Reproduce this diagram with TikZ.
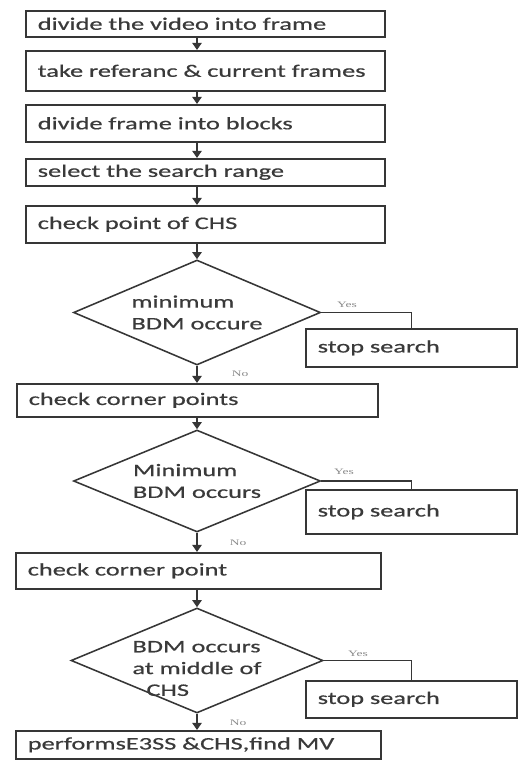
\documentclass[tikz,border=0pt]{standalone}
\usepackage{fontspec}
\setmainfont{Carlito}[FakeStretch=1.5, FakeBold=0.6]
\newfontfamily\notefont{Liberation Serif}[FakeStretch=1.6]
\usepackage{xcolor}
\definecolor{flow-white}{HTML}{FFFFFF}
\definecolor{flow-line}{HTML}{363636}
\definecolor{flow-text}{HTML}{3A3A3A}
\definecolor{flow-note}{HTML}{8A8A8A}
\usepackage{tikz}
\usetikzlibrary{shapes.geometric, arrows.meta}

\tikzset{
  stepbox/.style 2 args={draw=flow-line, line width=1.1pt, anchor=north west,
    text width=#1, minimum height=#2, inner xsep=0.3cm, inner ysep=0pt,
    align=left, text=flow-text, font=\fontsize{12.5}{15.5}\selectfont},
  decision/.style={draw=flow-line, line width=1.1pt, shape=diamond, aspect=2.35, inner sep=0pt},
  decisiontext/.style={align=left, text=flow-text, inner sep=0pt, font=\fontsize{12.5}{15.5}\selectfont},
  flowarrow/.style={draw=flow-line, line width=1.4pt, -{Triangle[length=5pt, width=6.5pt]}},
  yesline/.style={draw=flow-line, line width=1.1pt},
  note/.style={text=flow-note, inner sep=0pt, font=\notefont\fontsize{6}{7}\selectfont}
}

\begin{document}
\begin{tikzpicture}

    % Background
    \fill[flow-white] (0, 0) rectangle (12.925, -19);
    \useasboundingbox (0, 0) rectangle (12.925, -19);
    \coordinate (spine) at (4.925, 0);

    % Steps
    \node[stepbox={8.375cm}{0.65cm}] (frames) at (0.625, -0.25) {divide the video into frame};
    \node[stepbox={8.375cm}{1.0cm}] (refcur) at (0.625, -1.25) {take referanc \& current frames};
    \node[stepbox={8.375cm}{0.925cm}] (blocks) at (0.625, -2.6) {divide frame into blocks};
    \node[stepbox={8.375cm}{0.675cm}] (range) at (0.625, -3.95) {select the search range};
    \node[stepbox={8.375cm}{0.925cm}] (chspoint) at (0.625, -5.125) {check point of CHS};

    % First test
    \node[decision, minimum width=6.175cm, minimum height=2.625cm] (bdmone) at (4.925, -7.8125) {};
    \node[decisiontext] (bdmonetext) at (bdmone) {minimum\\BDM occure};
    \node[stepbox={4.675cm}{0.95cm}] (stopone) at (7.625, -8.2) {stop search};
    \node[stepbox={8.425cm}{0.825cm}] (corners) at (0.4, -9.575) {check corner points};

    % Second test
    \node[decision, minimum width=6.175cm, minimum height=2.55cm] (bdmtwo) at (4.925, -12.025) {};
    \node[decisiontext] (bdmtwotext) at (bdmtwo) {Minimum\\BDM occurs};
    \node[stepbox={4.675cm}{1.1cm}] (stoptwo) at (7.625, -12.225) {stop search};
    \node[stepbox={8.525cm}{0.9cm}] (corner) at (0.375, -13.8) {check corner point};

    % Third test
    \node[decision, minimum width=6.3cm, minimum height=2.625cm] (bdmthree) at (4.925, -16.5125) {};
    \node[decisiontext] (bdmthreetext) at ([yshift=-0.2cm]bdmthree.center) {BDM occurs\\at middle of\\\hspace{0.35cm}CHS};
    \node[stepbox={4.675cm}{0.925cm}] (stopthree) at (7.625, -17.0) {stop search};
    \node[stepbox={8.525cm}{0.7cm}] (findmv) at (0.375, -18.25) {performsE3SS \&CHS,find MV};

    % Arrows
    \foreach \a/\b in {frames/refcur, refcur/blocks, blocks/range, range/chspoint}
        \draw[flowarrow] (\a.south -| spine) -- (\b.north -| spine);
    \draw[flowarrow] (chspoint.south -| spine) -- (bdmone.north);
    \draw[flowarrow] (bdmone.south) -- (corners.north -| bdmone.south);
    \draw[flowarrow] (corners.south -| spine) -- (bdmtwo.north);
    \draw[flowarrow] (bdmtwo.south) -- (corner.north -| bdmtwo.south);
    \draw[flowarrow] (corner.south -| spine) -- (bdmthree.north);
    \draw[flowarrow] (bdmthree.south) -- (findmv.north -| bdmthree.south);

    % Yes branches
    \draw[yesline] (bdmone.east) -| (stopone.north);
    \draw[yesline] (bdmtwo.east) -| (stoptwo.north);
    \draw[yesline] (bdmthree.east) -| (stopthree.north);

    % Labels
    \node[note] (yesone) at (8.675, -7.625) {Yes};
    \node[note] (noone) at (6.0, -9.35) {No};
    \node[note] (yestwo) at (8.6, -11.8) {Yes};
    \node[note] (notwo) at (5.95, -13.58) {No};
    \node[note] (yesthree) at (8.95, -16.35) {Yes};
    \node[note] (nothree) at (5.95, -18.08) {No};

\end{tikzpicture}
\end{document}
